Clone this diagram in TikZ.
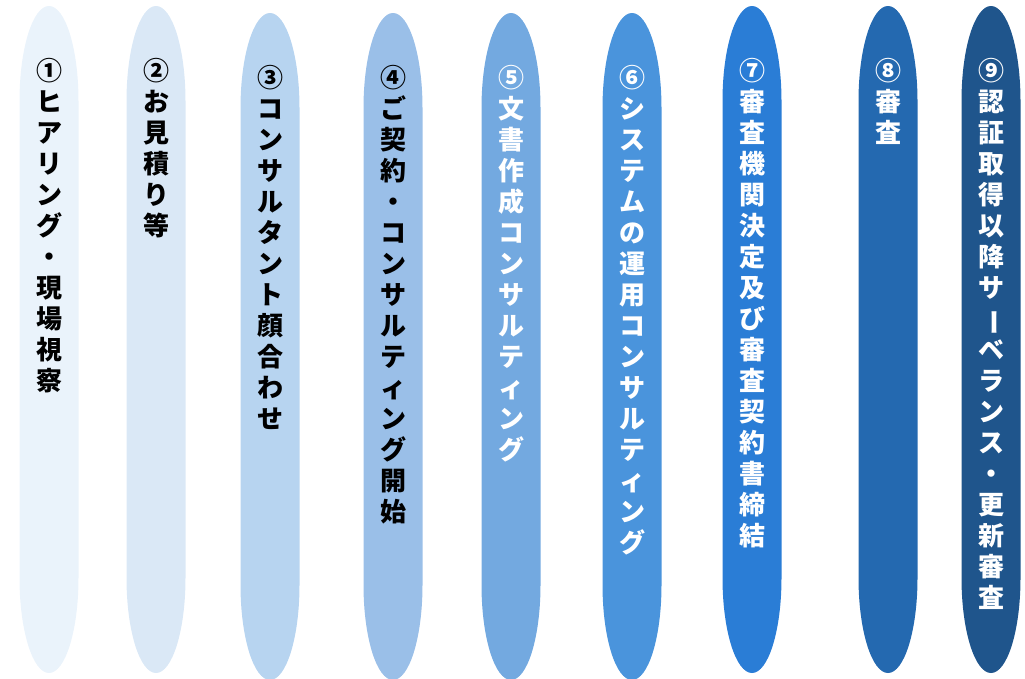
\documentclass[tikz,border=0pt]{standalone}
\usepackage{fontspec}
\usepackage{graphicx}
\newfontfamily\jpfont{Noto Sans CJK JP}
\usetikzlibrary{positioning}

\definecolor{flow1}{RGB}{234,243,251}
\definecolor{flow2}{RGB}{218,232,246}
\definecolor{flow3}{RGB}{183,212,240}
\definecolor{flow4}{RGB}{154,191,232}
\definecolor{flow5}{RGB}{115,169,224}
\definecolor{flow6}{RGB}{74,148,220}
\definecolor{flow7}{RGB}{42,125,214}
\definecolor{flow8}{RGB}{36,105,176}
\definecolor{flow9}{RGB}{31,85,140}

% stack the characters one under the other
\makeatletter
\newcommand\tatechars[1]{\vbox{\baselineskip=31pt\lineskiplimit=-100pt
  \@tfor\tch:=#1\do{\hbox to 26pt{\hss\tch\hss}}}}
\makeatother
\newcommand\chouon{\rotatebox[origin=c]{-90}{ー}}
% long capsule hanging from its top point
\newcommand\stagecapsule[2]{%
  \fill[#2] ([xshift=-29.5pt,yshift=-95pt]#1)
    arc[start angle=180, end angle=0, x radius=29.5pt, y radius=95pt]
    -- ++(0pt,-477pt)
    arc[start angle=0, end angle=-180, x radius=29.5pt, y radius=95pt]
    -- cycle;}

\begin{document}
\begin{tikzpicture}[x=1pt, y=-1pt,
    tate/.style={inner sep=0pt,
      font=\jpfont\bfseries\fontsize{26pt}{31pt}\selectfont}]
  \useasboundingbox (0,0) rectangle (1025,678);

  \coordinate (s1) at (49,6);
  \coordinate (s2) at (156,6);
  \coordinate (s3) at (270,13);
  \coordinate (s4) at (393,13);
  \coordinate (s5) at (511,13);
  \coordinate (s6) at (632,13);
  \coordinate (s7) at (752,6);
  \coordinate (s8) at (888,6);
  \coordinate (s9) at (991,6);

  \stagecapsule{s1}{flow1}
  \stagecapsule{s2}{flow2}
  \stagecapsule{s3}{flow3}
  \stagecapsule{s4}{flow4}
  \stagecapsule{s5}{flow5}
  \stagecapsule{s6}{flow6}
  \stagecapsule{s7}{flow7}
  \stagecapsule{s8}{flow8}
  \stagecapsule{s9}{flow9}

  \node[tate, text=black] (t1) [below=52pt of s1] {\tatechars{①ヒアリング・現場視察}};
  \node[tate, text=black] (t2) [below=52pt of s2] {\tatechars{②お見積り等}};
  \node[tate, text=black] (t3) [below=52pt of s3] {\tatechars{③コンサルタント顔合わせ}};
  \node[tate, text=black] (t4) [below=52pt of s4] {\tatechars{④ご契約・コンサルティング開始}};
  \node[tate, text=white] (t5) [below=52pt of s5] {\tatechars{⑤文書作成コンサルティング}};
  \node[tate, text=white] (t6) [below=52pt of s6] {\tatechars{⑥システムの運用コンサルティング}};
  \node[tate, text=white] (t7) [below=52pt of s7] {\tatechars{⑦審査機関決定及び審査契約書締結}};
  \node[tate, text=white] (t8) [below=52pt of s8] {\tatechars{⑧審査}};
  \node[tate, text=white] (t9) [below=52pt of s9] {\tatechars{⑨認証取得以降サ{\chouon}ベランス・更新審査}};
\end{tikzpicture}
\end{document}
